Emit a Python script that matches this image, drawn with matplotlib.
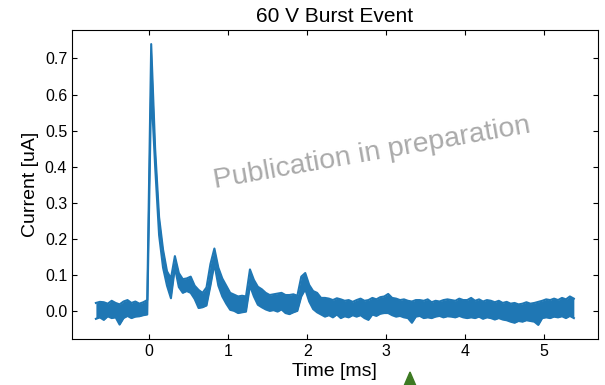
import numpy as np
import matplotlib
matplotlib.use('Agg')
import matplotlib.pyplot as plt
from matplotlib.patches import Polygon

plt.rcParams['font.family'] = ['Liberation Sans', 'DejaVu Sans']

# noisy current trace [uA], read as upper / lower edge of the noise band,
# sampled every 0.05 ms starting at t = -0.675 ms
t_start = -0.675
t_step = 0.05
upper = [
    0.022, 0.025, 0.024, 0.020, 0.028, 0.022, 0.018, 0.026, 0.030, 0.022,   # -0.675
    0.026, 0.020, 0.024, 0.030, 0.740, 0.450, 0.260, 0.170, 0.110, 0.090,   # -0.175
    0.152, 0.105, 0.088, 0.090, 0.095, 0.070, 0.058, 0.050, 0.065, 0.130,   # 0.325
    0.173, 0.120, 0.090, 0.070, 0.050, 0.045, 0.040, 0.042, 0.040, 0.115,   # 0.825
    0.086, 0.067, 0.060, 0.050, 0.044, 0.046, 0.048, 0.050, 0.044, 0.044,   # 1.325
    0.046, 0.042, 0.095, 0.105, 0.072, 0.055, 0.050, 0.036,                 # 1.825
    0.036, 0.034, 0.030, 0.035, 0.032, 0.028, 0.030, 0.025,                 # 2.225
    0.030, 0.034, 0.028, 0.030, 0.036, 0.032, 0.038, 0.040,                 # 2.625
    0.047, 0.036, 0.034, 0.030, 0.032, 0.028, 0.026, 0.030,                 # 3.025
    0.030, 0.028, 0.032, 0.024, 0.028, 0.026, 0.030, 0.032,                 # 3.425
    0.030, 0.028, 0.034, 0.030, 0.030, 0.036, 0.028, 0.032,                 # 3.825
    0.026, 0.030, 0.028, 0.024, 0.028, 0.022, 0.025, 0.020,                 # 4.225
    0.022, 0.018, 0.020, 0.024, 0.020, 0.022, 0.025, 0.028,                 # 4.625
    0.032, 0.030, 0.034, 0.030, 0.036, 0.032, 0.040, 0.034]                 # 5.025
lower = [
    -0.022, -0.018, -0.025, -0.015, -0.020, -0.018, -0.038, -0.020, -0.014, -0.020,
    -0.016, -0.015, -0.012, -0.010, 0.620, 0.400, 0.210, 0.120, 0.070, 0.035,
    0.120, 0.066, 0.050, 0.055, 0.050, 0.033, 0.008, 0.010, 0.015, 0.070,
    0.130, 0.070, 0.040, 0.020, 0.003, 0.000, -0.006, -0.004, -0.002, 0.070,
    0.040, 0.017, 0.010, 0.004, 0.000, 0.002, -0.002, 0.004, -0.006, -0.009,
    -0.004, 0.000, 0.040, 0.060, 0.026, 0.005, -0.004, -0.010,
    -0.016, -0.012, -0.018, -0.010, -0.020, -0.015, -0.018, -0.012,
    -0.016, -0.012, -0.020, -0.025, -0.010, -0.014, -0.008, -0.006,
    -0.006, -0.012, -0.016, -0.014, -0.018, -0.020, -0.033, -0.016,
    -0.014, -0.020, -0.018, -0.020, -0.016, -0.014, -0.018, -0.015,
    -0.016, -0.018, -0.014, -0.018, -0.020, -0.018, -0.020, -0.016,
    -0.022, -0.018, -0.020, -0.024, -0.020, -0.024, -0.026, -0.030,
    -0.033, -0.028, -0.030, -0.026, -0.028, -0.030, -0.039, -0.020,
    -0.018, -0.020, -0.016, -0.018, -0.015, -0.020, -0.014, -0.020]

upper = np.array(upper)
lower = np.array(lower)
time = t_start + t_step * np.arange(len(upper))

c = '#1f77b4'
fig = plt.figure(figsize=(6.05, 3.85), dpi=100)
ax = fig.add_axes([0.119, 0.1195, 0.869, 0.8025])
ax.fill_between(time, lower, upper, color=c, lw=0)
ax.plot(time, upper, color=c, lw=1.5)
ax.plot(time, lower, color=c, lw=1.5)

ax.set_title('60 V Burst Event', fontsize=15)
ax.set_xlabel('Time [ms]', fontsize=14, labelpad=3)
ax.set_ylabel('Current [uA]', fontsize=14)
ax.tick_params(direction='in', top=True, right=True, labelsize=11.5)
ax.set_yticks([0.0, 0.1, 0.2, 0.3, 0.4, 0.5, 0.6, 0.7])

ax.text(0.57, 0.6, 'Publication in preparation', transform=ax.transAxes,
        fontsize=20.5, color='#aaaaaa', rotation=10, ha='center', va='center')

# green marker clipped at the bottom edge
tri = Polygon([[410 / 605, 13 / 385], [401 / 605, -8 / 385], [419 / 605, -8 / 385]],
              closed=True, transform=fig.transFigure, color='#3d7a22', clip_on=False)
fig.patches.append(tri)

fig.savefig('out.png', dpi=100)
